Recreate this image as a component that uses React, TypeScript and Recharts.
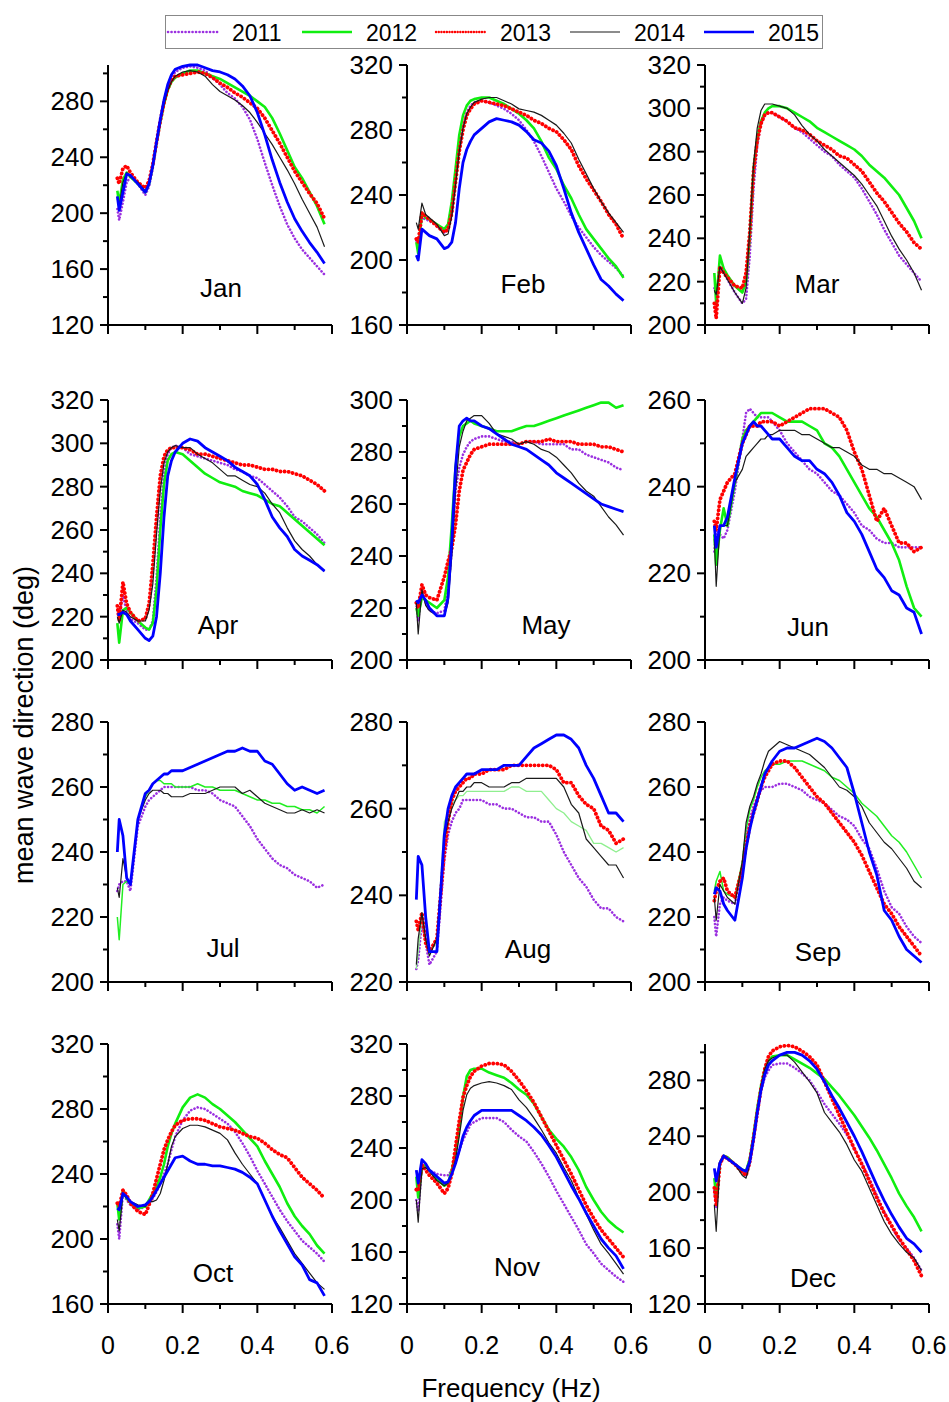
import React from "react"
import { LineChart, Line, XAxis, YAxis } from "recharts"

// frequency grid (Hz) shared by every panel
const FREQ = [0.025, 0.03, 0.04, 0.05, 0.06, 0.08, 0.1, 0.11, 0.12, 0.13, 0.14, 0.15, 0.16, 0.17, 0.18, 0.2, 0.22, 0.24, 0.26, 0.28, 0.3, 0.32, 0.34, 0.36, 0.38, 0.4, 0.42, 0.44, 0.46, 0.48, 0.5, 0.52, 0.54, 0.56, 0.58]

const YEARS = ["2011", "2012", "2013", "2014", "2015"]
const X_TICKS = [0, 0.1, 0.2, 0.3, 0.4, 0.5, 0.6]

// mean wave direction (deg), one array per year
const JAN = {
  "2011": [203, 195, 208, 222, 226, 221, 213, 219, 232, 249, 265, 279, 290, 297, 301, 304, 305, 304, 302, 297, 292, 286, 282, 276, 267, 253, 236, 220, 205, 192, 182, 174, 168, 162, 156],
  "2012": [216, 207, 224, 229, 226, 221, 215, 221, 234, 250, 265, 278, 288, 294, 297, 300, 302, 302, 300, 298, 296, 293, 290, 287, 284, 280, 276, 268, 257, 245, 233, 225, 215, 205, 192],
  "2013": [225, 221, 232, 234, 229, 222, 218, 223, 235, 251, 266, 279, 289, 295, 298, 299, 300, 301, 300, 297, 293, 290, 286, 283, 279, 275, 268, 259, 250, 240, 230, 222, 214, 207, 196],
  "2014": [210, 205, 222, 229, 226, 222, 216, 221, 234, 250, 265, 278, 288, 294, 298, 301, 302, 301, 298, 292, 287, 284, 281, 277, 272, 265, 257, 249, 240, 231, 221, 210, 200, 190, 176],
  "2015": [212, 202, 215, 228, 227, 221, 215, 221, 234, 251, 267, 281, 292, 299, 303, 305, 306, 306, 304, 302, 301, 299, 296, 291, 284, 272, 256, 238, 222, 208, 196, 187, 179, 172, 164],
}
const FEB = {
  "2011": [212, 207, 226, 225, 224, 221, 217, 219, 229, 248, 267, 282, 291, 295, 297, 298, 297, 295, 293, 290, 286, 280, 273, 264, 254, 244, 236, 227, 220, 214, 208, 203, 199, 195, 190],
  "2012": [211, 204, 229, 226, 225, 222, 219, 222, 236, 256, 277, 289, 295, 298, 299, 300, 300, 298, 296, 293, 290, 286, 281, 273, 263, 256, 246, 238, 228, 219, 213, 207, 201, 196, 189],
  "2013": [213, 211, 229, 227, 225, 221, 217, 219, 229, 248, 267, 280, 289, 293, 296, 298, 297, 296, 295, 293, 291, 289, 286, 284, 281, 279, 274, 268, 258, 250, 243, 236, 228, 222, 213],
  "2014": [223, 219, 235, 228, 226, 222, 215, 216, 227, 246, 267, 281, 290, 294, 297, 299, 300, 300, 298, 296, 293, 292, 291, 289, 286, 283, 278, 272, 262, 253, 244, 236, 229, 223, 217],
  "2015": [203, 200, 219, 217, 215, 213, 207, 208, 211, 223, 244, 260, 268, 273, 277, 281, 285, 287, 286, 285, 283, 279, 274, 272, 267, 258, 244, 229, 217, 207, 197, 188, 184, 179, 175],
}
const MAR = {
  "2011": [217, 214, 226, 224, 221, 215, 210, 212, 232, 263, 283, 293, 297, 298, 298, 296, 294, 291, 289, 286, 283, 280, 278, 274, 271, 268, 263, 257, 251, 244, 238, 232, 228, 224, 220],
  "2012": [224, 210, 232, 226, 223, 218, 215, 220, 241, 272, 286, 294, 298, 300, 301, 301, 300, 298, 296, 294, 291, 289, 287, 285, 283, 281, 278, 274, 271, 268, 264, 260, 254, 248, 240],
  "2013": [210, 203, 227, 224, 222, 218, 217, 224, 243, 271, 285, 293, 297, 298, 298, 296, 294, 291, 290, 288, 285, 283, 281, 278, 277, 274, 271, 266, 261, 257, 252, 247, 243, 238, 235],
  "2014": [216, 214, 227, 224, 221, 215, 210, 217, 244, 274, 291, 299, 302, 302, 302, 301, 300, 297, 292, 288, 285, 281, 278, 275, 272, 269, 265, 260, 255, 248, 241, 235, 230, 224, 216],
}
const APR = {
  "2011": [223, 220, 230, 222, 219, 217, 214, 214, 218, 238, 266, 286, 295, 298, 299, 298, 295, 294, 293, 292, 291, 290, 288, 287, 285, 284, 281, 278, 275, 271, 266, 264, 261, 258, 254],
  "2012": [217, 208, 223, 224, 222, 218, 215, 214, 217, 232, 260, 281, 292, 295, 296, 295, 292, 289, 286, 284, 282, 281, 280, 278, 277, 276, 274, 272, 271, 268, 265, 262, 259, 256, 253],
  "2013": [225, 218, 236, 226, 222, 218, 219, 226, 244, 266, 285, 294, 297, 298, 298, 298, 297, 295, 295, 294, 293, 292, 291, 290, 290, 289, 288, 288, 287, 287, 286, 285, 283, 281, 278],
  "2014": [220, 217, 223, 222, 220, 218, 218, 223, 235, 258, 278, 291, 296, 298, 299, 298, 298, 295, 293, 291, 288, 285, 285, 283, 281, 280, 277, 272, 268, 261, 255, 251, 248, 244, 241],
  "2015": [221, 221, 222, 221, 218, 214, 210, 209, 211, 220, 240, 266, 285, 292, 296, 300, 302, 301, 298, 296, 294, 292, 289, 287, 285, 281, 274, 266, 261, 257, 251, 248, 246, 244, 241],
}
const MAY = {
  "2011": [222, 215, 227, 222, 219, 218, 219, 227, 242, 265, 274, 279, 282, 284, 285, 286, 286, 285, 284, 284, 283, 284, 284, 283, 283, 283, 283, 281, 281, 279, 278, 277, 276, 274, 273],
  "2012": [220, 217, 224, 223, 222, 220, 223, 232, 252, 274, 286, 290, 291, 292, 291, 290, 289, 288, 288, 288, 289, 290, 290, 291, 292, 293, 294, 295, 296, 297, 298, 299, 299, 297, 298],
  "2013": [222, 220, 229, 225, 224, 223, 232, 238, 243, 252, 265, 273, 276, 279, 281, 282, 283, 283, 283, 283, 283, 284, 284, 284, 285, 284, 284, 284, 283, 283, 283, 282, 282, 281, 280],
  "2014": [222, 210, 227, 221, 219, 217, 217, 222, 240, 265, 282, 288, 292, 293, 294, 294, 291, 287, 286, 285, 283, 284, 283, 281, 280, 278, 275, 272, 268, 265, 263, 259, 255, 252, 248],
  "2015": [223, 222, 225, 223, 220, 217, 217, 224, 246, 274, 290, 292, 293, 292, 292, 290, 289, 287, 285, 283, 282, 281, 279, 277, 275, 272, 270, 268, 266, 264, 262, 260, 259, 258, 257],
}
const JUN = {
  "2011": [225, 230, 229, 228, 230, 239, 251, 257, 258, 257, 256, 256, 256, 256, 255, 253, 250, 248, 246, 244, 243, 241, 239, 238, 236, 234, 231, 230, 228, 227, 227, 226, 226, 226, 226],
  "2012": [229, 222, 230, 235, 231, 241, 251, 253, 254, 255, 256, 257, 257, 257, 257, 256, 255, 255, 255, 254, 253, 250, 249, 247, 244, 241, 238, 235, 233, 230, 227, 223, 217, 212, 210],
  "2013": [232, 230, 237, 239, 241, 243, 250, 252, 254, 254, 254, 255, 255, 255, 255, 254, 255, 256, 257, 258, 258, 258, 257, 256, 253, 248, 244, 238, 232, 235, 231, 227, 227, 225, 226],
  "2014": [228, 217, 231, 231, 231, 241, 244, 247, 248, 249, 250, 251, 251, 252, 252, 253, 253, 253, 252, 252, 251, 250, 249, 249, 248, 247, 245, 244, 244, 243, 243, 242, 241, 240, 237],
  "2015": [231, 226, 231, 231, 233, 242, 250, 252, 254, 255, 254, 254, 253, 252, 251, 251, 249, 247, 246, 246, 244, 243, 241, 238, 234, 232, 229, 225, 221, 219, 216, 215, 212, 211, 206],
}
const JUL = {
  "2011": [228, 230, 231, 231, 228, 248, 254, 256, 257, 258, 259, 260, 260, 260, 260, 260, 260, 259, 259, 258, 256, 255, 254, 251, 248, 244, 241, 238, 236, 235, 233, 232, 231, 229, 230],
  "2012": [220, 213, 230, 231, 230, 250, 257, 259, 261, 262, 262, 261, 261, 261, 260, 260, 260, 261, 260, 260, 259, 259, 259, 258, 257, 256, 256, 255, 255, 254, 254, 253, 253, 252, 254],
  "2014": [229, 226, 238, 232, 230, 250, 256, 258, 259, 259, 259, 258, 258, 257, 257, 257, 258, 258, 258, 259, 260, 260, 260, 258, 259, 257, 255, 254, 253, 252, 252, 253, 252, 253, 252],
  "2015": [240, 250, 245, 232, 230, 250, 258, 259, 261, 262, 263, 264, 264, 265, 265, 265, 266, 267, 268, 269, 270, 271, 271, 272, 271, 271, 268, 267, 264, 261, 259, 260, 259, 258, 259],
}
const AUG = {
  "2011": [223, 225, 234, 229, 224, 227, 248, 254, 257, 259, 260, 262, 262, 262, 262, 262, 261, 261, 260, 260, 259, 258, 258, 257, 257, 254, 250, 247, 244, 242, 239, 237, 237, 235, 234],
  "2012": [223, 227, 235, 229, 227, 229, 257, 259, 261, 262, 263, 263, 264, 264, 264, 264, 264, 264, 264, 265, 265, 264, 264, 264, 262, 260, 259, 257, 256, 255, 252, 252, 251, 250, 251],
  "2013": [234, 232, 236, 229, 227, 230, 250, 257, 262, 264, 265, 266, 267, 267, 268, 268, 269, 269, 269, 270, 270, 270, 270, 270, 270, 269, 266, 266, 263, 261, 260, 256, 255, 252, 253],
  "2014": [224, 230, 236, 230, 226, 230, 253, 257, 260, 262, 264, 264, 265, 265, 266, 266, 265, 265, 265, 266, 266, 267, 267, 267, 267, 267, 265, 261, 259, 253, 251, 249, 247, 247, 244],
  "2015": [239, 249, 247, 235, 227, 227, 254, 260, 263, 265, 266, 267, 268, 268, 268, 269, 269, 269, 270, 270, 270, 272, 274, 275, 276, 277, 277, 276, 274, 270, 267, 263, 259, 259, 257],
}
const SEP = {
  "2011": [220, 214, 224, 226, 225, 224, 236, 245, 250, 254, 257, 259, 260, 260, 260, 261, 261, 260, 259, 257, 256, 255, 253, 251, 250, 248, 244, 241, 235, 228, 223, 221, 217, 214, 212],
  "2012": [228, 231, 234, 228, 227, 226, 237, 247, 253, 256, 260, 263, 265, 266, 267, 267, 268, 268, 268, 267, 266, 265, 263, 262, 260, 258, 255, 253, 251, 248, 245, 243, 240, 236, 232],
  "2013": [225, 228, 231, 232, 228, 226, 235, 242, 248, 252, 256, 260, 263, 265, 267, 268, 268, 266, 263, 260, 257, 255, 252, 249, 246, 243, 239, 234, 229, 224, 221, 217, 214, 211, 208],
  "2014": [226, 219, 230, 228, 226, 224, 237, 249, 254, 257, 261, 264, 268, 271, 272, 274, 273, 272, 271, 270, 268, 266, 263, 260, 259, 257, 254, 249, 246, 243, 241, 238, 235, 231, 229],
  "2015": [227, 229, 228, 224, 222, 219, 232, 241, 247, 252, 256, 260, 264, 266, 268, 271, 272, 272, 273, 274, 275, 274, 272, 269, 266, 258, 249, 240, 233, 222, 219, 214, 210, 208, 206],
}
const OCT = {
  "2011": [209, 200, 228, 224, 221, 218, 220, 222, 225, 229, 234, 240, 246, 255, 263, 273, 279, 281, 280, 277, 274, 271, 266, 259, 251, 242, 234, 226, 218, 211, 205, 199, 195, 191, 186],
  "2012": [222, 212, 230, 225, 222, 219, 220, 224, 228, 232, 238, 246, 257, 265, 271, 281, 287, 289, 287, 283, 280, 276, 272, 267, 262, 257, 248, 240, 232, 222, 214, 208, 203, 196, 191],
  "2013": [222, 220, 230, 227, 222, 217, 215, 221, 228, 237, 246, 255, 261, 266, 270, 273, 274, 274, 273, 271, 269, 268, 267, 265, 263, 262, 259, 255, 252, 250, 244, 238, 234, 230, 225],
  "2014": [212, 205, 228, 225, 223, 221, 220, 223, 223, 224, 228, 236, 246, 257, 263, 268, 270, 270, 269, 267, 265, 261, 253, 246, 240, 234, 224, 214, 207, 199, 191, 185, 179, 173, 169],
  "2015": [219, 218, 228, 226, 223, 220, 221, 223, 226, 230, 234, 238, 242, 246, 250, 251, 248, 246, 246, 245, 245, 244, 243, 241, 238, 234, 224, 214, 205, 197, 189, 184, 175, 173, 165],
}
const NOV = {
  "2011": [200, 191, 225, 225, 223, 220, 219, 219, 223, 229, 238, 246, 252, 258, 260, 263, 263, 263, 260, 254, 249, 245, 237, 228, 218, 207, 197, 187, 177, 166, 159, 151, 146, 141, 137],
  "2012": [218, 202, 225, 227, 223, 216, 211, 213, 223, 236, 256, 279, 295, 300, 301, 301, 298, 296, 294, 290, 285, 281, 274, 264, 254, 247, 241, 233, 223, 210, 200, 191, 184, 179, 175],
  "2013": [208, 207, 227, 223, 219, 213, 205, 209, 220, 241, 261, 279, 288, 295, 299, 303, 305, 305, 304, 299, 292, 284, 275, 264, 253, 242, 231, 220, 208, 196, 186, 177, 170, 163, 156],
  "2014": [200, 183, 224, 225, 222, 215, 211, 213, 220, 231, 249, 269, 281, 286, 288, 290, 291, 290, 288, 285, 277, 271, 263, 254, 244, 236, 225, 215, 202, 189, 177, 166, 159, 151, 143],
  "2015": [223, 213, 231, 228, 223, 218, 213, 214, 220, 228, 238, 249, 256, 261, 265, 269, 269, 269, 269, 269, 265, 261, 256, 250, 242, 233, 222, 211, 201, 190, 180, 170, 163, 157, 147],
}
const DEC = {
  "2011": [201, 189, 220, 225, 225, 220, 215, 212, 220, 236, 255, 272, 282, 287, 291, 292, 292, 289, 285, 280, 272, 263, 256, 249, 241, 231, 221, 210, 198, 186, 175, 166, 160, 153, 144],
  "2012": [210, 196, 221, 226, 225, 220, 216, 215, 224, 241, 260, 276, 288, 294, 297, 298, 298, 295, 292, 289, 285, 281, 275, 269, 262, 255, 247, 239, 230, 220, 210, 199, 190, 182, 172],
  "2013": [203, 191, 220, 226, 224, 220, 214, 212, 222, 239, 257, 274, 288, 297, 301, 304, 305, 304, 301, 297, 291, 279, 267, 255, 243, 231, 220, 208, 196, 185, 176, 167, 159, 151, 140],
  "2014": [191, 172, 220, 226, 224, 220, 212, 210, 220, 238, 258, 276, 288, 294, 296, 298, 298, 293, 286, 279, 271, 257, 250, 243, 234, 223, 215, 203, 191, 179, 170, 163, 157, 153, 144],
  "2015": [217, 208, 221, 226, 224, 220, 216, 215, 222, 238, 257, 273, 284, 291, 294, 298, 300, 300, 298, 294, 288, 279, 269, 260, 250, 240, 229, 217, 205, 194, 184, 175, 167, 163, 157],
}

// labelled y ticks and axis ranges per month
const Y_LABELS: Record<string, number[]> = {
  Jan: [120, 160, 200, 240, 280],
  Feb: [160, 200, 240, 280, 320],
  Mar: [200, 220, 240, 260, 280, 300, 320],
  Apr: [200, 220, 240, 260, 280, 300, 320],
  May: [200, 220, 240, 260, 280, 300],
  Jun: [200, 220, 240, 260],
  Jul: [200, 220, 240, 260, 280],
  Aug: [220, 240, 260, 280],
  Sep: [200, 220, 240, 260, 280],
  Oct: [160, 200, 240, 280, 320],
  Nov: [120, 160, 200, 240, 280, 320],
  Dec: [120, 160, 200, 240, 280],
}
const Y_DOMAIN: Record<string, [number, number]> = {
  Jan: [120, 306], Feb: [160, 320], Mar: [200, 320], Apr: [200, 320],
  May: [200, 300], Jun: [200, 260], Jul: [200, 280], Aug: [220, 280],
  Sep: [200, 280], Oct: [160, 320], Nov: [120, 320], Dec: [120, 306],
}

const MONTH_DATA: Record<string, Record<string, number[]>> = {
  Jan: JAN, Feb: FEB, Mar: MAR, Apr: APR, May: MAY, Jun: JUN,
  Jul: JUL, Aug: AUG, Sep: SEP, Oct: OCT, Nov: NOV, Dec: DEC,
}

// layout
const COL_X = [108, 407, 705]
const ROW_Y = [65, 400, 722, 1044]
const PW = 224
const PH = 260
const Y_W = 70
const M_TOP = 20
const M_RIGHT = 25
const X_H = 55
const FONT = "'Liberation Sans', Arial, Helvetica, sans-serif"

const PANELS = [
  { m: "Jan", col: 0, row: 0, label: [113, 223] },
  { m: "Feb", col: 1, row: 0, label: [116, 219] },
  { m: "Mar", col: 2, row: 0, label: [112, 219] },
  { m: "Apr", col: 0, row: 1, label: [110, 225] },
  { m: "May", col: 1, row: 1, label: [139, 225] },
  { m: "Jun", col: 2, row: 1, label: [103, 227] },
  { m: "Jul", col: 0, row: 2, label: [115, 226] },
  { m: "Aug", col: 1, row: 2, label: [121, 227] },
  { m: "Sep", col: 2, row: 2, label: [113, 230] },
  { m: "Oct", col: 0, row: 3, label: [105, 229] },
  { m: "Nov", col: 1, row: 3, label: [110, 223] },
  { m: "Dec", col: 2, row: 3, label: [108, 234] },
]

const STYLE: Record<string, { color: string; width: number; dash?: string; cap?: "round" | "butt" }> = {
  "2011": { color: "#9b30e0", width: 2.6, dash: "0.1 3.4", cap: "round" },
  "2012": { color: "#10ee10", width: 2.6 },
  "2013": { color: "#ff0000", width: 3.8, dash: "0.1 4", cap: "round" },
  "2014": { color: "#1a1a1a", width: 1.2 },
  "2015": { color: "#0000ff", width: 2.8 },
}
// thinner / paler green in the summer panels
const GREEN_OVERRIDE: Record<string, { color: string; width: number }> = {
  Jul: { color: "#22ee22", width: 1.5 },
  Aug: { color: "#8fef8f", width: 1.3 },
  Sep: { color: "#22ee22", width: 1.5 },
}

function makeYTick(majors: number[]) {
  return (props: any) => {
    const { x, y, payload } = props
    const major = majors.includes(payload.value)
    return (
      <g>
        <line x1={x} x2={x - (major ? 8 : 5)} y1={y} y2={y} stroke="#000" strokeWidth={2} />
        {major && (
          <text x={x - 14} y={y} textAnchor="end" dominantBaseline="central" fontSize={26} fontFamily={FONT} fill="#000">
            {payload.value}
          </text>
        )}
      </g>
    )
  }
}

function makeXTick(showLabel: boolean) {
  return (props: any) => {
    const { x, y, payload } = props
    const major = Math.round(payload.value * 10) % 2 === 0
    return (
      <g>
        <line x1={x} x2={x} y1={y} y2={y + (major ? 9 : 5)} stroke="#000" strokeWidth={2} />
        {showLabel && major && (
          <text x={x} y={y + 41} textAnchor="middle" dominantBaseline="central" fontSize={25} fontFamily={FONT} fill="#000">
            {String(payload.value)}
          </text>
        )}
      </g>
    )
  }
}

function Panel({ m, col, row, label }: { m: string; col: number; row: number; label: number[] }) {
  const series = MONTH_DATA[m]
  const rows = FREQ.map((f, i) => {
    const r: Record<string, number> = { f }
    YEARS.forEach((yr) => {
      if (series[yr]) r["y" + yr] = series[yr][i]
    })
    return r
  })
  const majors = Y_LABELS[m]
  const [lo, hi] = Y_DOMAIN[m]
  const step = majors[1] - majors[0]
  const yTicks = [...majors, ...majors.map((v) => v + step / 2).filter((v) => v <= hi)].sort((a, b) => a - b)

  return (
    <div style={{ position: "absolute", left: COL_X[col] - Y_W, top: ROW_Y[row] - M_TOP }}>
      <LineChart
        width={Y_W + PW + M_RIGHT}
        height={M_TOP + PH + X_H}
        data={rows}
        margin={{ top: M_TOP, right: M_RIGHT, left: 0, bottom: 0 }}
      >
        <XAxis
          dataKey="f"
          type="number"
          domain={[0, 0.6]}
          ticks={X_TICKS}
          interval={0}
          height={X_H}
          tickSize={0}
          tickMargin={0}
          tickLine={false}
          axisLine={{ stroke: "#000", strokeWidth: 2 }}
          tick={makeXTick(row === 3)}
        />
        <YAxis
          type="number"
          domain={[lo, hi]}
          ticks={yTicks}
          interval={0}
          width={Y_W}
          tickSize={0}
          tickMargin={0}
          tickLine={false}
          axisLine={{ stroke: "#000", strokeWidth: 2 }}
          tick={makeYTick(majors)}
        />
        {YEARS.filter((yr) => series[yr]).map((yr) => {
          const s = STYLE[yr]
          const g = yr === "2012" ? GREEN_OVERRIDE[m] : undefined
          return (
            <Line
              key={yr}
              type="linear"
              dataKey={"y" + yr}
              stroke={g ? g.color : s.color}
              strokeWidth={g ? g.width : s.width}
              strokeDasharray={s.dash}
              strokeLinecap={s.cap || "butt"}
              strokeLinejoin="round"
              dot={false}
              activeDot={false}
              isAnimationActive={false}
            />
          )
        })}
      </LineChart>
      <div
        style={{
          position: "absolute",
          left: Y_W + label[0],
          top: M_TOP + label[1],
          transform: "translate(-50%, -50%)",
          fontSize: 26,
          fontFamily: FONT,
          color: "#000",
          whiteSpace: "nowrap",
        }}
      >
        {m}
      </div>
    </div>
  )
}

function LegendBox() {
  return (
    <svg style={{ position: "absolute", left: 165, top: 15 }} width={658} height={34}>
      <rect x={0.5} y={0.5} width={657} height={33} fill="#fff" stroke="#888" strokeWidth={1} />
      {YEARS.map((yr, i) => {
        const s = STYLE[yr]
        const x0 = 3 + i * 134
        return (
          <g key={yr}>
            <line
              x1={x0}
              x2={x0 + 50}
              y1={17}
              y2={17}
              stroke={s.color}
              strokeWidth={yr === "2014" ? 1.2 : yr === "2013" ? 2.4 : 2.6}
              strokeDasharray={yr === "2013" ? "0.1 2.6" : s.dash}
              strokeLinecap={s.cap || "butt"}
            />
            <text x={x0 + 64} y={18} dominantBaseline="central" fontSize={23} fontFamily={FONT} fill="#000">
              {yr}
            </text>
          </g>
        )
      })}
    </svg>
  )
}

export default function App() {
  return (
    <div style={{ position: "absolute", left: 0, top: 0, width: 949, height: 1402, background: "#fff", fontFamily: FONT }}>
      <LegendBox />
      {PANELS.map((p) => (
        <Panel key={p.m} {...p} />
      ))}
      <div
        style={{
          position: "absolute",
          left: 24,
          top: 725,
          transform: "translate(-50%, -50%) rotate(-90deg)",
          fontSize: 27,
          whiteSpace: "nowrap",
          color: "#000",
        }}
      >
        mean wave direction (deg)
      </div>
      <div
        style={{
          position: "absolute",
          left: 511,
          top: 1388,
          transform: "translate(-50%, -50%)",
          fontSize: 26,
          whiteSpace: "nowrap",
          color: "#000",
        }}
      >
        Frequency (Hz)
      </div>
    </div>
  )
}
